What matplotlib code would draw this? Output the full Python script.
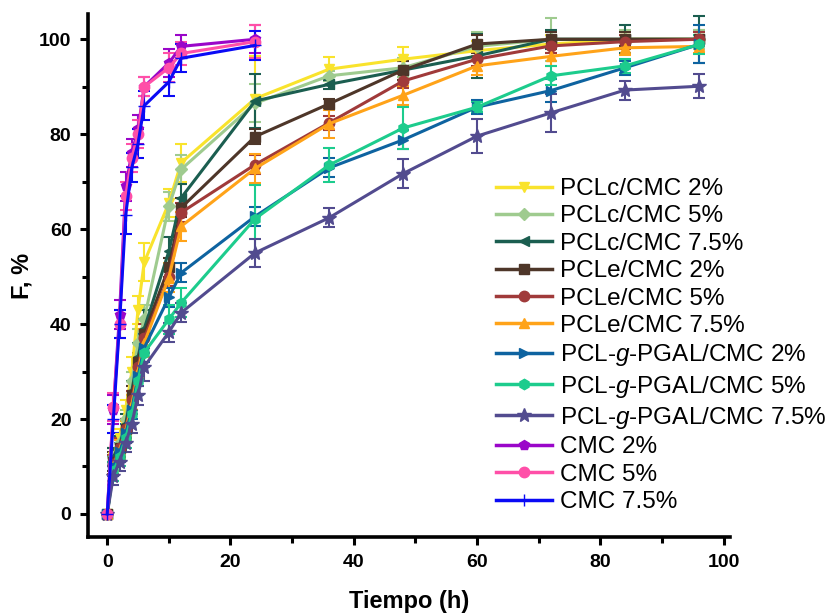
import numpy as np
import matplotlib
matplotlib.use("Agg")
import matplotlib.pyplot as plt
from matplotlib.lines import Line2D

plt.rcParams["mathtext.fontset"] = "custom"
plt.rcParams["mathtext.it"] = "Liberation Sans:italic"
plt.rcParams["mathtext.rm"] = "Liberation Sans"

# time points (h)
t_pcl = [0, 1, 2, 3, 4, 5, 6, 10, 12, 24, 36, 48, 60, 72, 84, 96]
t_cmc = [0, 1, 2, 3, 4, 5, 6, 10, 12, 24]

# release (%)
pclc_2 = [0, 12, 16, 22, 30, 43, 53, 65.5, 74, 87.5, 93.7, 95.8, 97.6, 99, 100, 100]
pclc_5 = [0, 12, 15, 20, 28, 36, 41, 64.8, 72.6, 86.5, 92.3, 94.0, 98.5, 100, 100, 100]
pclc_75 = [0, 12, 14.5, 19, 26, 33, 39, 55.3, 66.6, 87, 90.5, 93.5, 96.5, 100, 100, 100]
pcle_2 = [0, 11, 14, 18, 25, 32, 38, 52, 64.5, 79.5, 86.4, 93.5, 99, 100, 100, 100]
pcle_5 = [0, 10.5, 14, 18, 24, 31, 37, 50, 63.5, 73.6, 82.4, 91.2, 95.8, 98.6, 99.5, 100]
pcle_75 = [0, 10, 13.5, 17.5, 23, 30, 36, 49.8, 60.6, 72.8, 82.2, 88.2, 94.4, 96.4, 98.2, 98.5]
pclg_2 = [0, 10, 13, 17, 22, 29, 35, 45.6, 50.8, 62.7, 72.9, 78.8, 85.7, 89.2, 94, 98.9]
pclg_5 = [0, 9, 12, 16, 21, 28, 34, 41, 44.5, 62.2, 73.5, 81.3, 85.7, 92.3, 94.4, 98.9]
pclg_75 = [0, 8, 11, 15, 19, 25, 31, 38.3, 42.4, 55, 62.4, 71.7, 79.6, 84.5, 89.3, 90.1]
cmc_2 = [0, 22, 42, 69, 76, 81, 90, 95, 98.5, 100]
cmc_5 = [0, 22.5, 40, 67, 75, 80, 90, 94, 97, 99.5]
cmc_75 = [0, 20, 40, 63, 73, 78, 86, 91, 96, 98.7]

# standard deviations
pclc_2_err = [0, 2, 2, 2, 3, 3, 4, 3, 4, 9, 2.5, 2.5, 2, 2, 1.5, 2]
pclc_5_err = [0, 2, 2, 2, 2, 3, 3, 3, 3, 4, 1, 2, 3, 4.5, 2, 2]
pclc_75_err = [0, 2, 2, 2, 2, 3, 4, 3, 3, 5.7, 1, 2, 4.7, 2, 3, 5]
pcle_2_err = [0, 2, 2, 2, 2, 2, 3, 2, 2, 1.5, 1, 2, 2, 1.5, 1.5, 1.5]
pcle_5_err = [0, 2, 2, 2, 2, 2, 3, 2, 2, 2, 1.5, 1.5, 1.5, 1.5, 1.5, 1.5]
pcle_75_err = [0, 2, 2, 2, 2, 2, 3, 3, 3, 3, 3, 2, 2, 2, 1.5, 1.5]
pclg_2_err = [0, 2, 2, 2, 2, 2, 3, 2, 2, 2, 2, 2, 1.5, 2.5, 1.5, 4]
pclg_5_err = [0, 2, 2, 2, 2, 3, 3, 3, 3, 7, 3.5, 4.5, 1, 2, 1.5, 2]
pclg_75_err = [0, 2, 2, 2, 2, 2, 3, 2, 2, 3, 2, 3, 3.5, 4, 2, 2.5]
cmc_2_err = [0, 3, 3, 3, 3, 3, 2, 3, 2.5, 3]
cmc_5_err = [0, 3, 3, 3, 3, 3, 2, 3, 2.5, 3.5]
cmc_75_err = [0, 3, 3, 4, 3, 3, 3, 3, 3, 3]

series = [
    ("PCLc/CMC 2%", t_pcl, pclc_2, pclc_2_err, "#F9E32C", "v"),
    ("PCLc/CMC 5%", t_pcl, pclc_5, pclc_5_err, "#9FCB8F", "D"),
    ("PCLc/CMC 7.5%", t_pcl, pclc_75, pclc_75_err, "#1B5E50", "<"),
    ("PCLe/CMC 2%", t_pcl, pcle_2, pcle_2_err, "#4E3629", "s"),
    ("PCLe/CMC 5%", t_pcl, pcle_5, pcle_5_err, "#A03A3A", "o"),
    ("PCLe/CMC 7.5%", t_pcl, pcle_75, pcle_75_err, "#FFA319", "^"),
    ("PCL-$\\it{g}$-PGAL/CMC 2%", t_pcl, pclg_2, pclg_2_err, "#0E63A0", ">"),
    ("PCL-$\\it{g}$-PGAL/CMC 5%", t_pcl, pclg_5, pclg_5_err, "#1DCC8D", "h"),
    ("PCL-$\\it{g}$-PGAL/CMC 7.5%", t_pcl, pclg_75, pclg_75_err, "#524B8F", "*"),
    ("CMC 2%", t_cmc, cmc_2, cmc_2_err, "#9A06C9", "p"),
    ("CMC 5%", t_cmc, cmc_5, cmc_5_err, "#FF4FA8", "o"),
    ("CMC 7.5%", t_cmc, cmc_75, cmc_75_err, "#0A0AF5", "+"),
]

fig = plt.figure(figsize=(8.31, 6.13), dpi=100)
ax = fig.add_axes([0.106, 0.124, 0.773, 0.853])

handles = []
for label, t, y, e, c, m in series:
    ms = {"*": 10, "+": 9, "D": 6.5}.get(m, 7.5)
    ax.errorbar(t, y, yerr=e, color=c, marker=m, markersize=ms, linewidth=2.2,
                elinewidth=1.5, capsize=4.5, capthick=1.5, markeredgecolor=c)
    handles.append(Line2D([], [], color=c, marker=m, markersize=ms,
                          linewidth=2.5, markeredgecolor=c, label=label))

ax.set_xlim(-3.1, 101.1)
ax.set_ylim(-4.85, 105.3)
ax.set_xticks(np.arange(0, 101, 20))
ax.set_xticks(np.arange(10, 100, 20), minor=True)
ax.set_yticks(np.arange(0, 101, 20))
ax.set_yticks(np.arange(10, 100, 20), minor=True)

for side in ("top", "right"):
    ax.spines[side].set_visible(False)
for side in ("left", "bottom"):
    ax.spines[side].set_linewidth(2.6)
ax.tick_params(which="major", direction="out", length=6, width=2.2, pad=6)
ax.tick_params(which="minor", direction="out", length=4, width=2.2)

font = ["Liberation Sans", "DejaVu Sans"]
for lab in ax.get_xticklabels() + ax.get_yticklabels():
    lab.set_family(font)
    lab.set_fontweight("bold")
    lab.set_fontsize(14)

ax.set_xlabel("Tiempo (h)", family=font, fontweight="bold", fontsize=17, labelpad=14)
ax.set_ylabel("F, %", family=font, fontweight="bold", fontsize=17, labelpad=4)

leg = ax.legend(handles=handles, loc="upper left", bbox_to_anchor=(0.62, 0.705),
                frameon=False, prop={"family": "Liberation Sans", "size": 17.5},
                handlelength=2.3, handletextpad=0.35, labelspacing=0.22,
                borderaxespad=0)

fig.savefig("out.png", dpi=100)
